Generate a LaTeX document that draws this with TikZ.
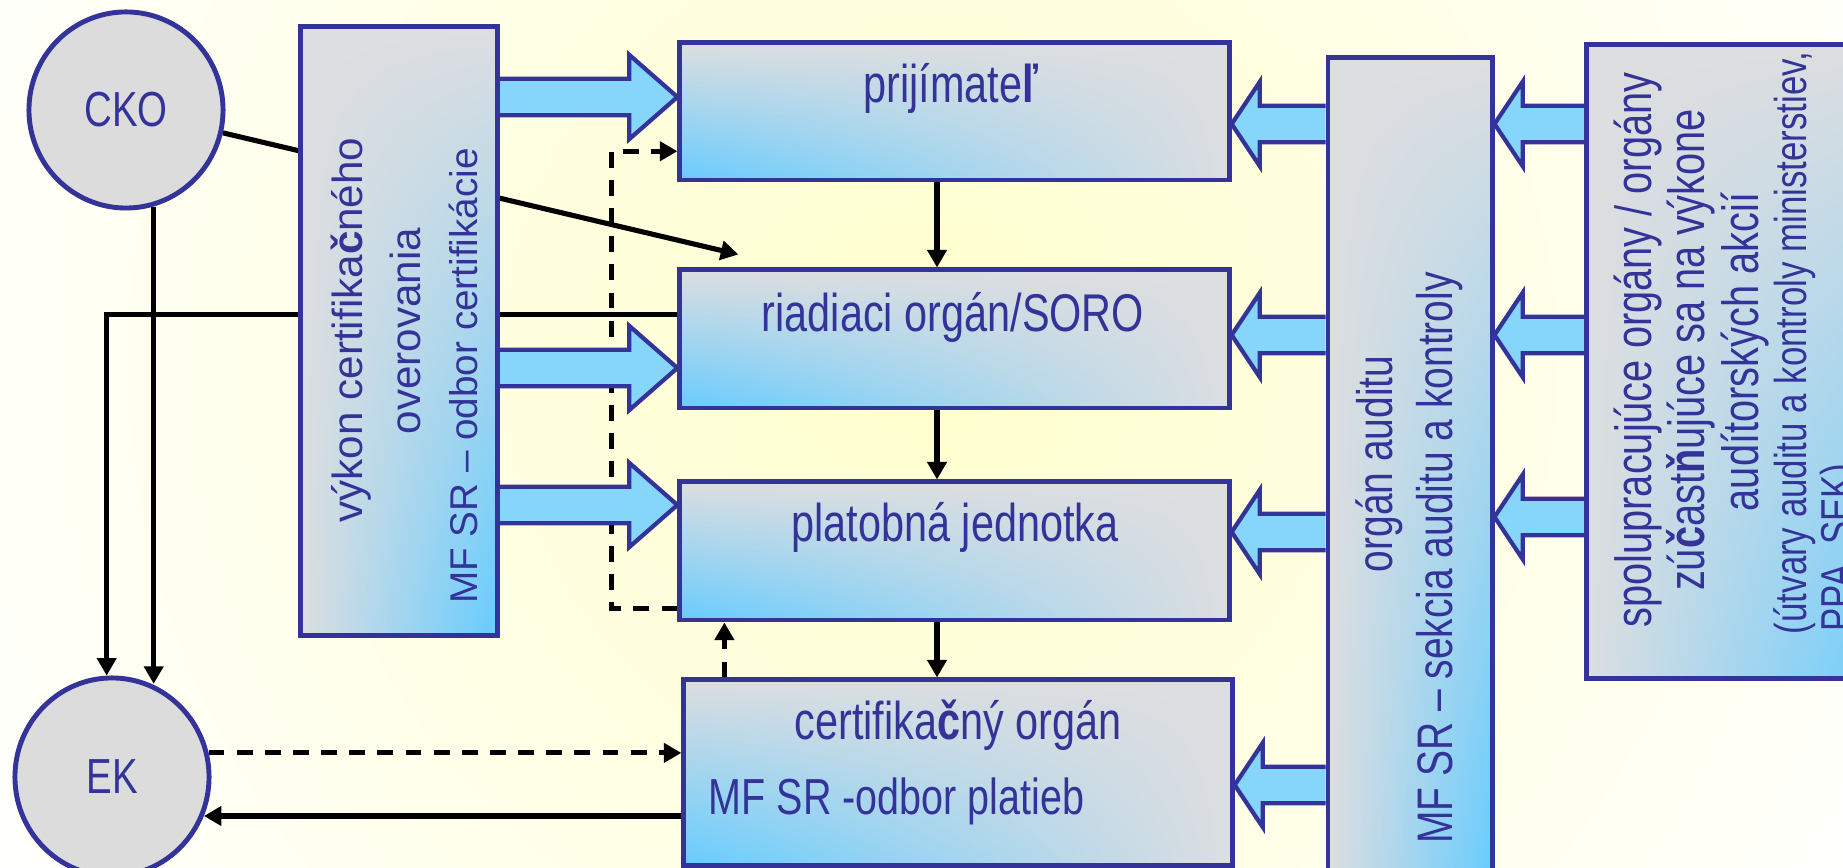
\documentclass[tikz,border=0pt]{standalone}
\usepackage{fontspec}
\setmainfont{Liberation Sans}
\newfontfamily\narrowsf[FakeStretch=0.78]{Liberation Sans}
\usepackage{xcolor}
\usepackage{tikz}
\usetikzlibrary{arrows.meta,positioning,calc,shapes.geometric,backgrounds,shadings}

\definecolor{bdr}{RGB}{51,51,153}
\definecolor{boxgray}{RGB}{221,222,224}
\definecolor{boxblue}{RGB}{102,204,255}
\definecolor{fatblue}{RGB}{133,214,250}
\definecolor{ovalgray}{RGB}{220,220,220}
\definecolor{bgyellow}{RGB}{255,255,205}

\tikzset{
  box/.style={draw=bdr, line width=1.4pt, shade, upper left=boxgray, upper right=boxgray,
    lower right=boxgray, lower left=boxblue, inner sep=0pt},
  vbox/.style={box, lower left=boxgray, lower right=boxblue},
  oval/.style={ellipse, draw=bdr, line width=1.4pt, fill=ovalgray, inner sep=0pt, text=bdr,
    font=\narrowsf\fontsize{14pt}{16pt}\selectfont},
  boxtext/.style={text=bdr, inner sep=0pt, anchor=base, font=\narrowsf\fontsize{15.1pt}{17pt}\selectfont},
  vtext/.style={boxtext, rotate=90},
  conn/.style={line width=1.45pt, -{Triangle[length=5pt,width=5.4pt]}},
  dconn/.style={conn, dash pattern=on 4.5pt off 3.5pt},
  fatbody/.style={draw=bdr, line width=1.2pt, fill=fatblue, line join=miter},
}

% block arrow: head length, tail, tip, height of the axis
\newcommand{\fatarrow}[4]{%
  \filldraw[fatbody] let \p1=(#2), \p2=(#3), \p3=(0,#4), \n1={\x2-(#1)} in
    (\x1,\y3+5.2pt) -- (\n1,\y3+5.2pt) -- (\n1,\y3+12pt) -- (\x2,\y3)
    -- (\n1,\y3-12pt) -- (\n1,\y3-5.2pt) -- (\x1,\y3-5.2pt);
}

\begin{document}
\begin{tikzpicture}[x=0.01cm, y=-0.01cm]
    \useasboundingbox (0,0) rectangle (1843,868);

    % boxes
    \node[vbox, minimum width=1.96cm, minimum height=6.08cm] (vyk) at (399,331) {};
    \node[box, minimum width=5.49cm, minimum height=1.37cm] (prij) at (954.5,111.5) {};
    \node[box, minimum width=5.49cm, minimum height=1.38cm] (riad) at (954.5,339) {};
    \node[box, minimum width=5.49cm, minimum height=1.38cm] (plat) at (954.5,551) {};
    \node[box, minimum width=5.48cm, minimum height=1.85cm] (cert) at (958,772.5) {};
    \node[vbox, minimum width=1.64cm, minimum height=8.27cm] (ao) at (1410,471.5) {};
    \node[vbox, minimum width=3.2cm, minimum height=6.33cm] (spol) at (1747,361.5) {};

    % ovals
    \node[oval, minimum width=1.94cm, minimum height=1.96cm] (cko) at (126,110) {CKO};
    \node[oval, minimum width=1.94cm, minimum height=1.98cm] (ek) at (112,777) {EK};

    % texts
    \node[boxtext] (prijt) at (951,103) {prijímate\textbf{ľ}};
    \node[boxtext] (riadt) at (953,332) {riadiaci orgán/SORO};
    \node[boxtext] (platt) at (955,542) {platobná jednotka};
    \node[boxtext] (certt) at (958,740) {certifika\textbf{č}ný orgán};
    \node[boxtext, anchor=base west, font=\narrowsf\fontsize{14.4pt}{16pt}\selectfont] (certmf) at (708,815) {MF SR -odbor platieb};

    \node[vtext, font=\fontsize{12pt}{14pt}\selectfont] (vyk1) at (362,330) {výkon certifika\textbf{č}ného};
    \node[vtext, font=\fontsize{12pt}{14pt}\selectfont] (vyk2) at (420,331) {overovania};
    \node[vtext, font=\fontsize{11pt}{13pt}\selectfont] (vyk3) at (477,376) {MF SR – odbor certifikácie};

    \node[vtext, font=\narrowsf\fontsize{14.2pt}{16pt}\selectfont] (ao1) at (1392,464) {orgán auditu};
    \node[vtext, font=\narrowsf\fontsize{14.2pt}{16pt}\selectfont] (ao2) at (1452,558) {MF SR – sekcia auditu a kontroly};

    \node[vtext, font=\narrowsf\fontsize{14.5pt}{16pt}\selectfont] (spol1) at (1651,350) {spolupracujúce orgány / orgány};
    \node[vtext, font=\narrowsf\fontsize{14.5pt}{16pt}\selectfont] (spol2) at (1704,350) {zú\textbf{č}ast\textbf{ň}ujúce sa na výkone};
    \node[vtext, font=\narrowsf\fontsize{14.5pt}{16pt}\selectfont] (spol3) at (1758,352) {audítorských akcií};
    \node[vtext, font=\narrowsf\fontsize{12.7pt}{15pt}\selectfont] (spol4) at (1806,343) {(útvary auditu a kontroly ministerstiev,};
    \node[vtext, anchor=base west, font=\narrowsf\fontsize{12.7pt}{15pt}\selectfont] (spol5) at (1852,632) {PPA, SEK)};

    % connectors
    \coordinate (ckotip) at ($(riad.north west)+(61,-13)$);
    \coordinate (riadl) at ($(riad.north west)!0.33!(riad.south west)$);
    \coordinate (axis) at (937,0);
    \draw[conn] (cko.-74) -- (cko.-74 |- ek.67);
    \draw[conn] (prij.south -| axis) -- (riad.north -| axis);
    \draw[conn] (riad.south -| axis) -- (plat.north -| axis);
    \draw[conn] (plat.south -| axis) -- (cert.north -| axis);
    \draw[dconn] ($(cert.north west)+(43,0)$) coordinate (certup) -- (certup |- plat.south);
    \draw[dconn] (ek.14) -- (ek.14 -| cert.west);
    \draw[conn] (ek.-23 -| cert.west) -- (ek.-23);

    \begin{scope}[on background layer]
        \fill[white] (0,0) rectangle (1843,868);
        \shade[inner color=bgyellow, outer color=white] (930,360) circle (1100);
        \draw[conn] (cko) -- (ckotip);
        \draw[conn] (riadl) -| (ek.93);
        \draw[dconn] ($(plat.north west)!0.9!(plat.south west)$) -- ++(-66,0)
            |- ($(prij.north west)!0.78!(prij.south west)$);
        % block arrows (under the boxes)
        \fatarrow{13.7pt}{vyk.east}{prij.west}{97}
        \fatarrow{13.7pt}{vyk.east}{riad.west}{368}
        \fatarrow{13.7pt}{vyk.east}{plat.west}{505}
        \fatarrow{-8pt}{ao.west}{prij.east}{124}
        \fatarrow{-8pt}{ao.west}{riad.east}{335}
        \fatarrow{-8pt}{ao.west}{plat.east}{532}
        \fatarrow{-8pt}{ao.west}{cert.east}{785}
        \fatarrow{-8pt}{spol.west}{ao.east}{124}
        \fatarrow{-8pt}{spol.west}{ao.east}{335}
        \fatarrow{-8pt}{spol.west}{ao.east}{517}
    \end{scope}
\end{tikzpicture}
\end{document}
